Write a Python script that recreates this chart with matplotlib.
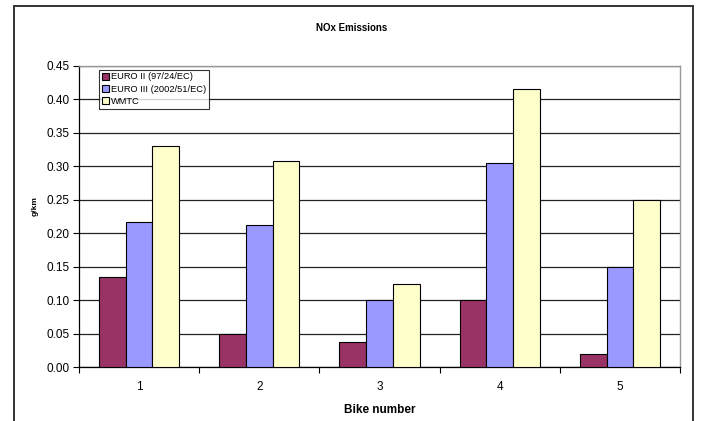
import matplotlib
matplotlib.use("Agg")
import matplotlib.pyplot as plt
from matplotlib.patches import Rectangle
import numpy as np

plt.rcParams['font.family'] = ['Liberation Sans', 'DejaVu Sans']

bikes = ["1", "2", "3", "4", "5"]
series_names = ["EURO II (97/24/EC)", "EURO III (2002/51/EC)", "WMTC"]
euro2 = [0.135, 0.050, 0.038, 0.101, 0.020]
euro3 = [0.217, 0.213, 0.100, 0.305, 0.150]
wmtc = [0.330, 0.308, 0.125, 0.415, 0.250]
colors = ["#993366", "#9999FF", "#FFFFCC"]
yticks = [0.00, 0.05, 0.10, 0.15, 0.20, 0.25, 0.30, 0.35, 0.40, 0.45]

fig = plt.figure(figsize=(7.03, 4.21), dpi=100)
fig.patch.set_facecolor("white")

# outer chart frame
fig.add_artist(Rectangle((14 / 703, -0.05), (693 - 14) / 703, 1.05 - 6 / 421,
                         transform=fig.transFigure, fill=False,
                         edgecolor="#333333", linewidth=1.4))

ax = fig.add_axes([79 / 703, (421 - 367.3) / 421, (680 - 79) / 703, (367.3 - 65.7) / 421])

x = np.arange(len(bikes))
w = 0.222
for i, (vals, name) in enumerate(zip([euro2, euro3, wmtc], series_names)):
    ax.bar(x + (i - 1) * w, vals, width=w, color=colors[i], edgecolor="black",
           linewidth=0.8, label=name, zorder=3)

ax.set_xlim(-0.5, len(bikes) - 0.5)
ax.set_ylim(0, 0.45)
ax.set_yticks(yticks)
ax.set_yticklabels([f"{v:.2f}" for v in yticks], fontsize=8.5)
ax.yaxis.grid(True, color="#222222", linewidth=0.9, zorder=0)
ax.set_axisbelow(True)

ax.set_xticks(x)
ax.set_xticklabels(bikes, fontsize=8.5)
ax.set_xticks(np.arange(-0.5, len(bikes)), minor=True)
ax.tick_params(axis="x", which="major", length=0, pad=10)
ax.tick_params(axis="x", which="minor", length=4, direction="out", width=0.8)
ax.tick_params(axis="y", length=4, direction="out", width=0.8, pad=3)

for s in ["left", "bottom"]:
    ax.spines[s].set_color("black")
    ax.spines[s].set_linewidth(0.9)
for s in ["top", "right"]:
    ax.spines[s].set_color("#999999")
    ax.spines[s].set_linewidth(1.0)

ax.set_xlabel("Bike number", fontsize=8.5, fontweight="bold", labelpad=8)
fig.text(35 / 703, 1 - 206 / 421, "g/km", fontsize=6, fontweight="bold",
         rotation=90, ha="center", va="center")
fig.text(0.5, 1 - 28 / 421, "NOx Emissions", fontsize=7, fontweight="bold",
         ha="center", va="center")

leg = ax.legend(loc="upper left", bbox_to_anchor=(20 / 601, 1 - 4 / 301.6),
                fontsize=6.7, frameon=True, fancybox=False, borderpad=0.3,
                handlelength=0.8, handleheight=0.8, handletextpad=0.2,
                labelspacing=0.35, borderaxespad=0)
leg.get_frame().set_edgecolor("black")
leg.get_frame().set_linewidth(0.8)

fig.savefig("out.png", dpi=100)
